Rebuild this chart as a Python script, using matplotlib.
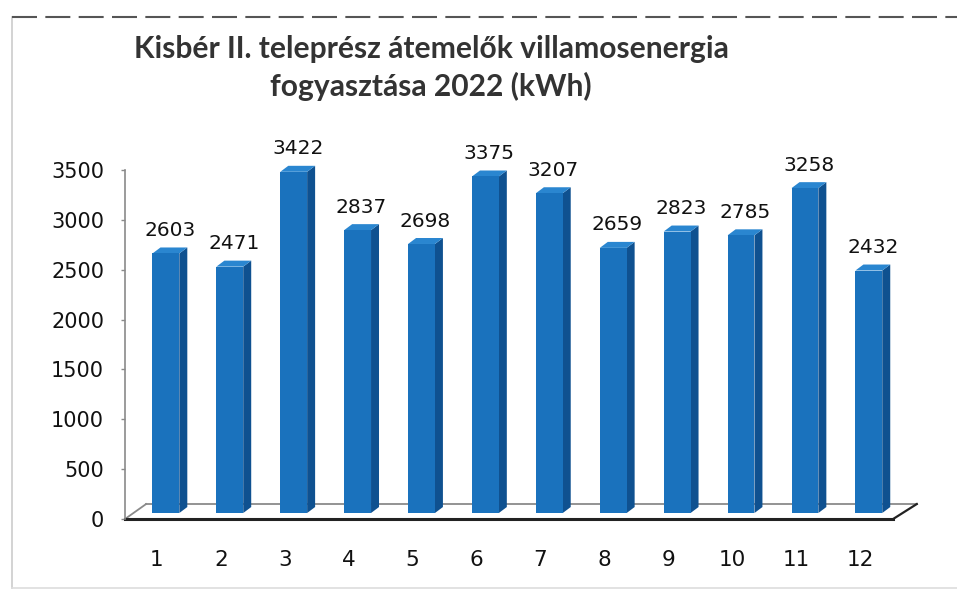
import numpy as np
import matplotlib
matplotlib.use("Agg")
import matplotlib.pyplot as plt
from matplotlib.patches import Polygon

months = list(range(1, 13))
values = [2603, 2471, 3422, 2837, 2698, 3375, 3207, 2659, 2823, 2785, 3258, 2432]
yticks = [0, 500, 1000, 1500, 2000, 2500, 3000, 3500]
title = "Kisbér II. teleprész átemelők villamosenergia\nfogyasztása 2022 (kWh)"

plt.rcParams['font.family'] = ['DejaVu Sans']

front_col = '#1a72bd'
side_col = '#0f5190'
top_col = '#2a86d0'

# pseudo 3D geometry (data units)
w = 0.42      # front width
dx = 0.125    # depth shift in x
dz = 60       # depth shift in y
base = 60     # bars stand a bit behind the front floor edge
off = -0.07   # front left edge relative to category

fig = plt.figure(figsize=(9.57, 5.9), dpi=100)
ax = fig.add_axes([125 / 957, 71 / 590, 795.6 / 957, 349 / 590])
ax.set_xlim(0.5, 12.95)
ax.set_ylim(0, 3500)

# floor
ax.plot([0.83, 12.89], [150, 150], color='#8a8a8a', lw=1.3, clip_on=False, zorder=1)
ax.plot([0.5, 0.83], [0, 150], color='#8a8a8a', lw=1.3, clip_on=False, zorder=1)
ax.plot([12.52, 12.89], [0, 150], color='#222222', lw=1.6, clip_on=False, zorder=1)

for m, v in zip(months, values):
    x0 = m + off
    x1 = x0 + w
    top = base + v
    ax.add_patch(Polygon([[x1, base], [x1 + dx, base + dz], [x1 + dx, top + dz], [x1, top]],
                         closed=True, fc=side_col, ec='none', zorder=3, clip_on=False))
    ax.add_patch(Polygon([[x0, top], [x1, top], [x1 + dx, top + dz], [x0 + dx, top + dz]],
                         closed=True, fc=top_col, ec='none', zorder=3, clip_on=False))
    ax.bar(x0, v, width=w, bottom=base, align='edge', color=front_col, zorder=4, clip_on=False)
    ax.text(x0 + (w + dx) / 2, top + dz + 75, str(v), ha='center', va='bottom',
            fontsize=14.5, color='#111111', clip_on=False)

ax.plot([0.5, 12.52], [0, 0], color='#222222', lw=2.2, clip_on=False, zorder=2)

for s in ['top', 'right', 'bottom']:
    ax.spines[s].set_visible(False)
ax.spines['left'].set_color('#8a8a8a')
ax.spines['left'].set_linewidth(1.2)

ax.set_yticks(yticks)
ax.set_yticklabels([str(t) for t in yticks])
ax.tick_params(axis='y', length=3, width=1, color='#8a8a8a', pad=12, labelsize=15, labelcolor='#111111')
ax.set_xticks(months)
ax.set_xticklabels([str(m) for m in months])
ax.tick_params(axis='x', length=0, pad=22, labelsize=15.5, labelcolor='#111111')

fig.text(431 / 957, 1 - 68 / 590, title, ha='center', va='center', fontsize=21.6,
         fontweight='bold', color='#333333', linespacing=1.35, family=['Lato', 'DejaVu Sans'])

# scanned frame
fig.add_artist(plt.Line2D([12 / 957, 12 / 957], [2 / 590, 1 - 17 / 590], color='#cccccc', lw=1.2))
fig.add_artist(plt.Line2D([12 / 957, 1], [2 / 590, 2 / 590], color='#dddddd', lw=1.2))
fig.add_artist(plt.Line2D([12 / 957, 1], [1 - 17 / 590, 1 - 17 / 590], color='#555555', lw=1.5, ls=(0, (12, 4))))

fig.savefig('out.png', dpi=100)
